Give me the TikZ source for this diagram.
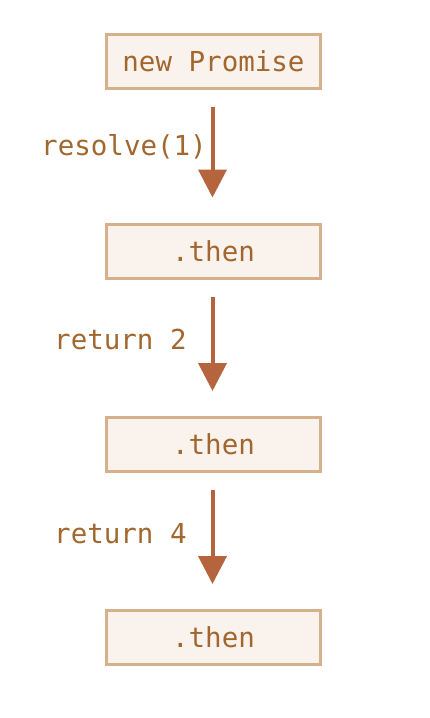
\documentclass[tikz,border=0pt]{standalone}
\usepackage{fontspec}
\setmonofont{DejaVu Sans Mono}
\usetikzlibrary{arrows.meta}
\definecolor{boxborder}{HTML}{D6B08B}
\definecolor{boxfill}{HTML}{FAF2EC}
\definecolor{txtcol}{HTML}{A2672E}
\definecolor{arrcol}{HTML}{B5643D}
\tikzset{
  stepbox/.style={draw=boxborder, fill=boxfill, line width=3pt, minimum width=214.5pt, minimum height=54pt, inner sep=0pt, text=txtcol, font=\fontsize{27.5pt}{30pt}\selectfont\ttfamily},
  lbl/.style={inner sep=0pt, text=txtcol, font=\fontsize{27.5pt}{30pt}\selectfont\ttfamily},
  flow/.style={draw=arrcol, line width=4pt, -{Triangle[length=28pt,width=28pt]}, shorten <=17pt, shorten >=25pt}
}
\begin{document}
\begin{tikzpicture}[x=1pt,y=-1pt]
\useasboundingbox (0,0) rectangle (430,718);
\node[stepbox] (b1) at (213.5,61.5) {new Promise};
\node[stepbox] (b2) at (213.5,251) {.then};
\node[stepbox] (b3) at (213.5,444.5) {.then};
\node[stepbox] (b4) at (213.5,637.5) {.then};
\draw[flow] (b1.south -| 212.5,0) -- (b2.north -| 212.5,0);
\draw[flow] (b2.south -| 212.5,0) -- (b3.north -| 212.5,0);
\draw[flow] (b3.south -| 212.5,0) -- (b4.north -| 212.5,0);
\node[lbl, anchor=base east] (l1) at (207,155) {resolve(1)};
\node[lbl, anchor=base west] (l2) at (54,349) {return 2};
\node[lbl, anchor=base west] (l3) at (54,543) {return 4};
\end{tikzpicture}
\end{document}
